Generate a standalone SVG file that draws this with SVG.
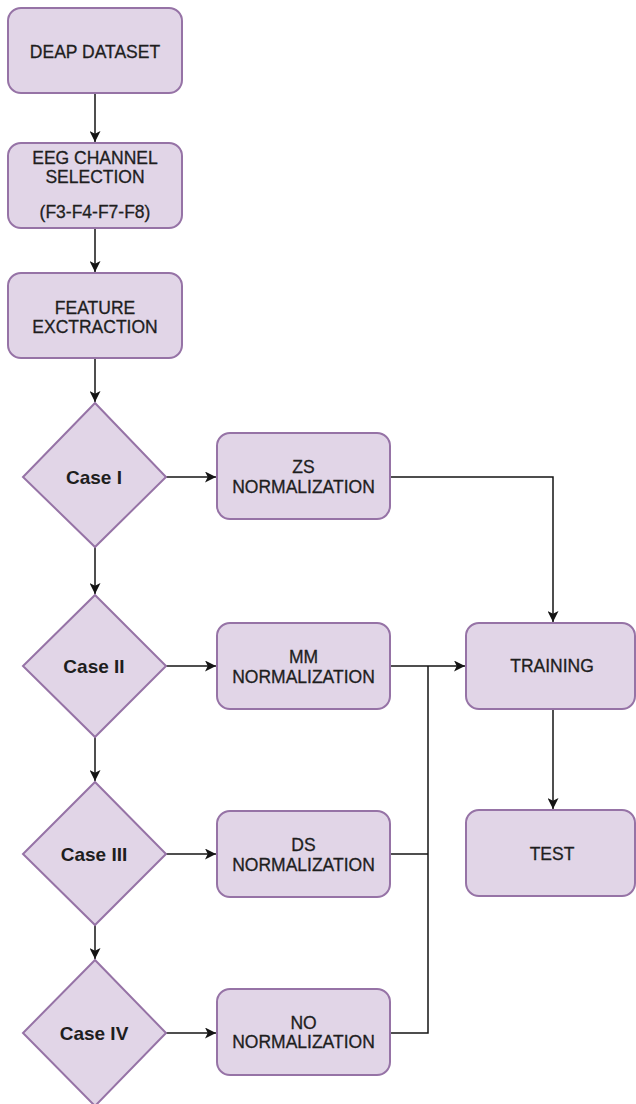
<svg xmlns="http://www.w3.org/2000/svg" width="636" height="1104" viewBox="0 0 636 1104">
<style>
.n{fill:#e1d5e7;stroke:#9673a6;stroke-width:2}
.t{font-family:"Liberation Sans",Arial,sans-serif;font-size:17.5px;fill:#1e1e1e;stroke:#1e1e1e;stroke-width:0.3;text-anchor:middle}
.b{font-family:"Liberation Sans",Arial,sans-serif;font-size:19px;font-weight:bold;fill:#1e1e1e;text-anchor:middle}
.c{fill:none;stroke:#141414;stroke-width:1.5}
</style>
<defs>
<marker id="ar" viewBox="0 0 10 10" refX="10" refY="5" markerWidth="11" markerHeight="11" markerUnits="userSpaceOnUse" orient="auto">
<path d="M0,0 L10,5 L0,10 L2.5,5 Z" fill="#141414"/>
</marker>
</defs>
<g id="connectors">
<path class="c" d="M95,93 V142" marker-end="url(#ar)"/>
<path class="c" d="M95,228 V272" marker-end="url(#ar)"/>
<path class="c" d="M95,358 V402" marker-end="url(#ar)"/>
<path class="c" d="M95,547 V594" marker-end="url(#ar)"/>
<path class="c" d="M95,737 V781" marker-end="url(#ar)"/>
<path class="c" d="M95,925 V959" marker-end="url(#ar)"/>
<path class="c" d="M166,477 H216" marker-end="url(#ar)"/>
<path class="c" d="M166,666 H216" marker-end="url(#ar)"/>
<path class="c" d="M166,854 H216" marker-end="url(#ar)"/>
<path class="c" d="M166,1033 H216" marker-end="url(#ar)"/>
<path class="c" d="M390,477 H553 V622" marker-end="url(#ar)"/>
<path class="c" d="M390,666 H465" marker-end="url(#ar)"/>
<path class="c" d="M390,854 H428"/>
<path class="c" d="M390,1033 H428 V666"/>
<path class="c" d="M553,709 V809" marker-end="url(#ar)"/>
</g>
<g id="deap"><rect class="n" x="8" y="8" width="174" height="85" rx="13"/><text class="t" x="95" y="58">DEAP DATASET</text></g>
<g id="eeg"><rect class="n" x="8" y="143" width="174" height="85" rx="13"/><text class="t" x="95" y="164">EEG CHANNEL</text><text class="t" x="95" y="183">SELECTION</text><text class="t" x="95" y="218">(F3-F4-F7-F8)</text></g>
<g id="feature"><rect class="n" x="8" y="273" width="174" height="85" rx="13"/><text class="t" x="95" y="314">FEATURE</text><text class="t" x="95" y="333">EXCTRACTION</text></g>
<g id="case1"><polygon class="n" points="95,403 166,477 95,547 23,477"/><text class="b" x="94" y="484">Case I</text></g>
<g id="case2"><polygon class="n" points="95,595 166,666 95,737 23,666"/><text class="b" x="94" y="673">Case II</text></g>
<g id="case3"><polygon class="n" points="95,782 166,854 95,925 23,854"/><text class="b" x="94" y="861">Case III</text></g>
<g id="case4"><polygon class="n" points="95,960 166,1033 95,1106 23,1033"/><text class="b" x="94" y="1040">Case IV</text></g>
<g id="zs"><rect class="n" x="217" y="433" width="173" height="86" rx="13"/><text class="t" x="303.5" y="473">ZS</text><text class="t" x="303.5" y="493">NORMALIZATION</text></g>
<g id="mm"><rect class="n" x="217" y="623" width="173" height="86" rx="13"/><text class="t" x="303.5" y="663">MM</text><text class="t" x="303.5" y="683">NORMALIZATION</text></g>
<g id="ds"><rect class="n" x="217" y="811" width="173" height="86" rx="13"/><text class="t" x="303.5" y="851">DS</text><text class="t" x="303.5" y="871">NORMALIZATION</text></g>
<g id="no"><rect class="n" x="217" y="989" width="173" height="86" rx="13"/><text class="t" x="303.5" y="1029">NO</text><text class="t" x="303.5" y="1048">NORMALIZATION</text></g>
<g id="training"><rect class="n" x="466" y="623" width="169" height="86" rx="13"/><text class="t" x="552" y="672">TRAINING</text></g>
<g id="test"><rect class="n" x="466" y="810" width="169" height="86" rx="13"/><text class="t" x="552" y="860">TEST</text></g>
</svg>
